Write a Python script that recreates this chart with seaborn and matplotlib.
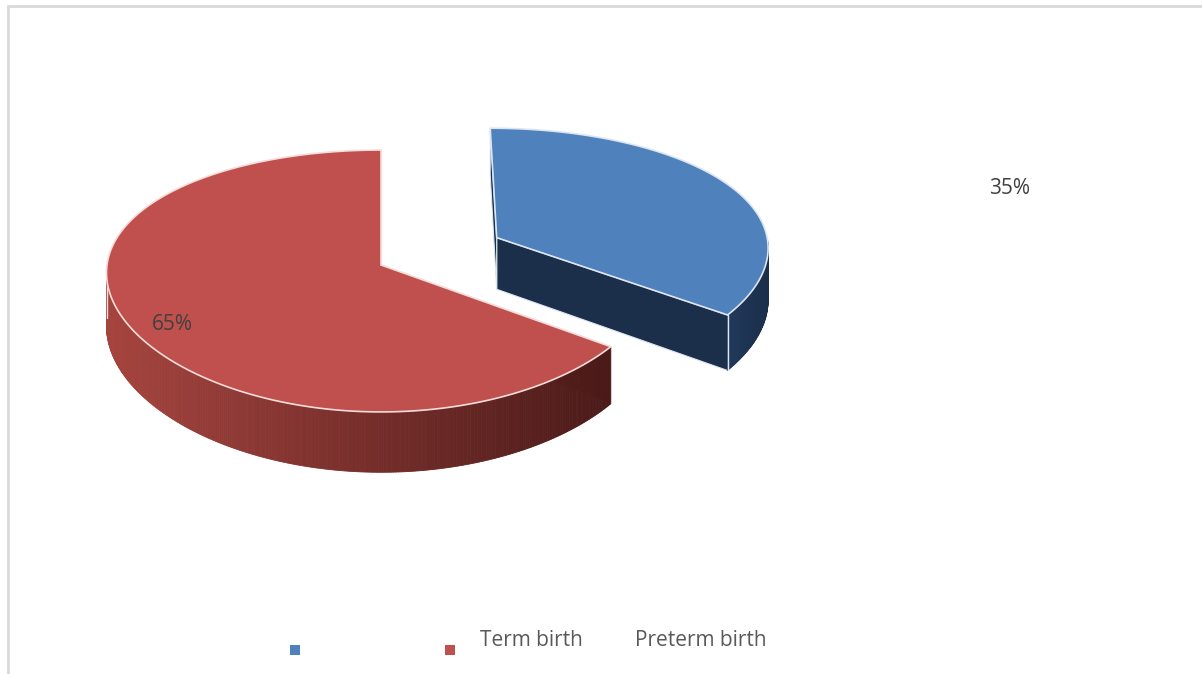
import numpy as np
import matplotlib
matplotlib.use("Agg")
import matplotlib.pyplot as plt
from matplotlib.patches import Polygon
from matplotlib.colors import to_rgb
import seaborn as sns

# data
shares = [35, 65]
slice_labels = ["35%", "65%"]
legend_texts = ["Term birth", "Preterm birth"]
top_colors = ["#4f81bd", "#c0504d"]
side_colors = [("#20385a", "#1b2f4b"), ("#a6443f", "#4a1a18")]
edge_colors = ["#dce6f2", "#f6dcdb"]
explode = [0.48, 0.0]

sns.set_theme(style="white")
plt.rcParams["font.family"] = ["Open Sans", "DejaVu Sans"]

# pie geometry (pixel units) with a little perspective
cx, cy = 381, 265
ra, rb = 274, 129
height = 53
kx, ky = 0.06, 0.122
start = 90.0

fig = plt.figure(figsize=(12.02, 6.74), dpi=100)
ax = fig.add_axes([0, 0, 1, 1])
ax.set_xlim(0, 1202)
ax.set_ylim(674, 0)
ax.axis("off")

# chart border (top + left only visible)
ax.plot([8, 8, 1202], [674, 6, 6], color="#d9d9d9", lw=2, solid_joinstyle="miter")


def proj(u, v, z=0.0):
    # u: right, v: into the screen, z: 0 top face, 1 bottom face
    x = cx + ra * u / (1 + kx * v)
    y = cy + (-rb * v + height * z) / (1 + ky * v)
    return x, y


def rim(ou, ov, th, z=0.0):
    t = np.radians(th)
    return proj(ou + np.cos(t), ov + np.sin(t), z)


fracs = np.array(shares) / sum(shares)
red_span = fracs[1] * 360
spans = {1: (start, start + red_span), 0: (start + red_span - 360, start)}

# back slice (blue) first, then red
for i in [0, 1]:
    t1, t2 = spans[i]
    mid = np.radians((t1 + t2) / 2)
    ou = explode[i] * np.cos(mid)
    ov = explode[i] * np.sin(mid)
    dark_l, dark_r = to_rgb(side_colors[i][0]), to_rgb(side_colors[i][1])

    # radial walls
    for th in [t1, t2]:
        wall = [proj(ou, ov, 0), rim(ou, ov, th, 0), rim(ou, ov, th, 1), proj(ou, ov, 1)]
        ax.add_patch(Polygon(wall, closed=True, fc=side_colors[i][1],
                             ec=edge_colors[i], lw=0.8, zorder=2))

    # outer wall on the front half, shaded strip by strip
    if i == 0:
        angs = np.linspace(t1, 0, 80)
    else:
        angs = np.linspace(180, t2, 300)
    xs_all = [rim(ou, ov, a)[0] for a in angs]
    x_lo, x_hi = min(xs_all), max(xs_all)
    for a0, a1 in zip(angs[:-1], angs[1:]):
        p0, p1 = rim(ou, ov, a0), rim(ou, ov, a1)
        q1, q0 = rim(ou, ov, a1, 1), rim(ou, ov, a0, 1)
        f = ((p0[0] + p1[0]) / 2 - x_lo) / max(x_hi - x_lo, 1)
        col = tuple(np.array(dark_l) * (1 - f) + np.array(dark_r) * f)
        ax.add_patch(Polygon([p0, p1, q1, q0], closed=True, fc=col, ec=col,
                             lw=0.6, zorder=3))
    # light edge at the wall corner
    c_top, c_bot = rim(ou, ov, angs[0]), rim(ou, ov, angs[0], 1)
    ax.plot([c_top[0], c_bot[0]], [c_top[1], c_bot[1]], color=edge_colors[i],
            lw=1, zorder=4)

    # top face
    arc = [rim(ou, ov, a) for a in np.linspace(t1, t2, 300)]
    top = [proj(ou, ov, 0)] + arc
    ax.add_patch(Polygon(top, closed=True, fc=top_colors[i],
                         ec=edge_colors[i], lw=1.2, zorder=5))

# data labels
label_pos = [(1010, 188), (172, 325)]
for txt, (lx, ly) in zip(slice_labels, label_pos):
    ax.text(lx, ly, txt, ha="center", va="center", fontsize=15,
            color="#404040", zorder=6)

# legend (as laid out in the original)
ax.scatter([295, 450], [650, 650], marker="s", s=42, c=top_colors,
           linewidths=0, zorder=6)
for txt, lx in zip(legend_texts, [480, 635]):
    ax.text(lx, 640, txt, ha="left", va="center", fontsize=15,
            color="#595959", zorder=6)

fig.savefig("out.png", dpi=100)
